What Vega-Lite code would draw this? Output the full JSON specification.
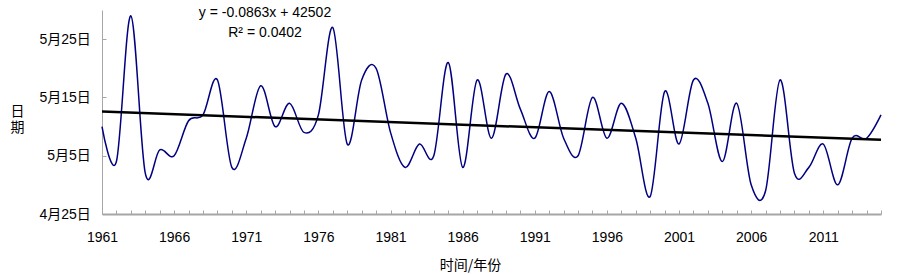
{
  "$schema": "https://vega.github.io/schema/vega-lite/v6.json",
  "width": 779,
  "height": 204,
  "autosize": {"type": "none"},
  "padding": {"left": 102, "top": 10, "right": 22, "bottom": 61},
  "background": "white",
  "config": {"view": {"stroke": null}, "font": "Liberation Sans, Noto Sans CJK SC"},
  "data": {
    "values": [
      {"year": 1961, "date": "2016-05-10"},
      {"year": 1962, "date": "2016-05-04"},
      {"year": 1963, "date": "2016-05-29"},
      {"year": 1964, "date": "2016-05-02"},
      {"year": 1965, "date": "2016-05-06"},
      {"year": 1966, "date": "2016-05-05"},
      {"year": 1967, "date": "2016-05-11"},
      {"year": 1968, "date": "2016-05-12"},
      {"year": 1969, "date": "2016-05-18"},
      {"year": 1970, "date": "2016-05-03"},
      {"year": 1971, "date": "2016-05-08"},
      {"year": 1972, "date": "2016-05-17"},
      {"year": 1973, "date": "2016-05-10"},
      {"year": 1974, "date": "2016-05-14"},
      {"year": 1975, "date": "2016-05-09"},
      {"year": 1976, "date": "2016-05-12"},
      {"year": 1977, "date": "2016-05-27"},
      {"year": 1978, "date": "2016-05-07"},
      {"year": 1979, "date": "2016-05-18"},
      {"year": 1980, "date": "2016-05-20"},
      {"year": 1981, "date": "2016-05-09"},
      {"year": 1982, "date": "2016-05-03"},
      {"year": 1983, "date": "2016-05-07"},
      {"year": 1984, "date": "2016-05-05"},
      {"year": 1985, "date": "2016-05-21"},
      {"year": 1986, "date": "2016-05-03"},
      {"year": 1987, "date": "2016-05-18"},
      {"year": 1988, "date": "2016-05-08"},
      {"year": 1989, "date": "2016-05-19"},
      {"year": 1990, "date": "2016-05-13"},
      {"year": 1991, "date": "2016-05-08"},
      {"year": 1992, "date": "2016-05-16"},
      {"year": 1993, "date": "2016-05-08"},
      {"year": 1994, "date": "2016-05-05"},
      {"year": 1995, "date": "2016-05-15"},
      {"year": 1996, "date": "2016-05-08"},
      {"year": 1997, "date": "2016-05-14"},
      {"year": 1998, "date": "2016-05-08"},
      {"year": 1999, "date": "2016-04-28"},
      {"year": 2000, "date": "2016-05-16"},
      {"year": 2001, "date": "2016-05-07"},
      {"year": 2002, "date": "2016-05-18"},
      {"year": 2003, "date": "2016-05-14"},
      {"year": 2004, "date": "2016-05-04"},
      {"year": 2005, "date": "2016-05-14"},
      {"year": 2006, "date": "2016-04-30"},
      {"year": 2007, "date": "2016-04-29"},
      {"year": 2008, "date": "2016-05-18"},
      {"year": 2009, "date": "2016-05-02"},
      {"year": 2010, "date": "2016-05-03"},
      {"year": 2011, "date": "2016-05-07"},
      {"year": 2012, "date": "2016-04-30"},
      {"year": 2013, "date": "2016-05-08"},
      {"year": 2014, "date": "2016-05-08"},
      {"year": 2015, "date": "2016-05-12"}
    ],
    "format": {"parse": {"date": "date"}}
  },
  "encoding": {
    "x": {
      "field": "year",
      "type": "quantitative",
      "scale": {"domain": [1961, 2015], "nice": false, "zero": false},
      "axis": {
        "values": [1961,1962,1963,1964,1965,1966,1967,1968,1969,1970,1971,1972,1973,1974,1975,1976,1977,1978,1979,1980,1981,1982,1983,1984,1985,1986,1987,1988,1989,1990,1991,1992,1993,1994,1995,1996,1997,1998,1999,2000,2001,2002,2003,2004,2005,2006,2007,2008,2009,2010,2011,2012,2013,2014,2015],
        "labelExpr": "(datum.value - 1961) % 5 == 0 ? datum.value : ''",
        "grid": false,
        "domainColor": "#a6a6a6",
        "domainWidth": 2,
        "tickColor": "#a6a6a6",
        "tickSize": -4,
        "labelPadding": 31.7,
        "labelBaseline": "alphabetic",
        "labelFlush": false,
        "labelOverlap": false,
        "labelBound": false,
        "labelFont": "Liberation Sans",
        "labelFontSize": 14,
        "labelColor": "#000000",
        "title": "时间/年份",
        "titleFont": "Noto Sans CJK SC",
        "titleFontSize": 14,
        "titleFontWeight": "normal",
        "titleColor": "#000000",
        "titleX": 368,
        "titleY": 55,
        "titleBaseline": "alphabetic",
        "titleAlign": "center"
      }
    },
    "y": {
      "field": "date",
      "type": "temporal",
      "scale": {
        "type": "utc",
        "domain": [{"year": 2016, "month": 4, "date": 25, "utc": true}, {"year": 2016, "month": 5, "date": 30, "utc": true}],
        "nice": false
      },
      "axis": {
        "values": [
          {"year": 2016, "month": 4, "date": 25, "utc": true},
          {"year": 2016, "month": 5, "date": 5, "utc": true},
          {"year": 2016, "month": 5, "date": 15, "utc": true},
          {"year": 2016, "month": 5, "date": 25, "utc": true}
        ],
        "format": "%-m月%-d日",
        "grid": false,
        "domainColor": "#a6a6a6",
        "tickColor": "#a6a6a6",
        "tickSize": -4,
        "labelPadding": 15.7,
        "labelBaseline": "middle",
        "labelOverlap": false,
        "labelFont": "Liberation Sans, Noto Sans CJK SC",
        "labelFontSize": 14,
        "labelColor": "#000000",
        "title": ["日", "期"],
        "titleAngle": 0,
        "titleFont": "Noto Sans CJK SC",
        "titleFontSize": 14,
        "titleFontWeight": "normal",
        "titleColor": "#000000",
        "titleLineHeight": 16,
        "titleX": -85,
        "titleY": 101,
        "titleAlign": "center",
        "titleBaseline": "middle"
      }
    }
  },
  "layer": [
    {
      "mark": {"type": "line", "interpolate": "cardinal", "color": "#000080", "strokeWidth": 1.5},
      "encoding": {"order": {"field": "year", "type": "quantitative"}}
    },
    {
      "transform": [{"regression": "date", "on": "year"}],
      "mark": {"type": "line", "color": "#000000", "strokeWidth": 2.5},
      "encoding": {"order": {"field": "year", "type": "quantitative"}}
    },
    {
      "data": {
        "values": [
          {"label": "y = -0.0863x + 42502", "year": 1972.3, "date": "2016-05-28T20:00:00Z"},
          {"label": "R² = 0.0402", "year": 1972.3, "date": "2016-05-25T07:00:00Z"}
        ],
        "format": {"parse": {"date": "date"}}
      },
      "mark": {"type": "text", "align": "center", "baseline": "alphabetic", "fontSize": 14, "font": "Liberation Sans", "color": "#000000"},
      "encoding": {
        "text": {"field": "label", "type": "nominal"}
      }
    }
  ]
}
